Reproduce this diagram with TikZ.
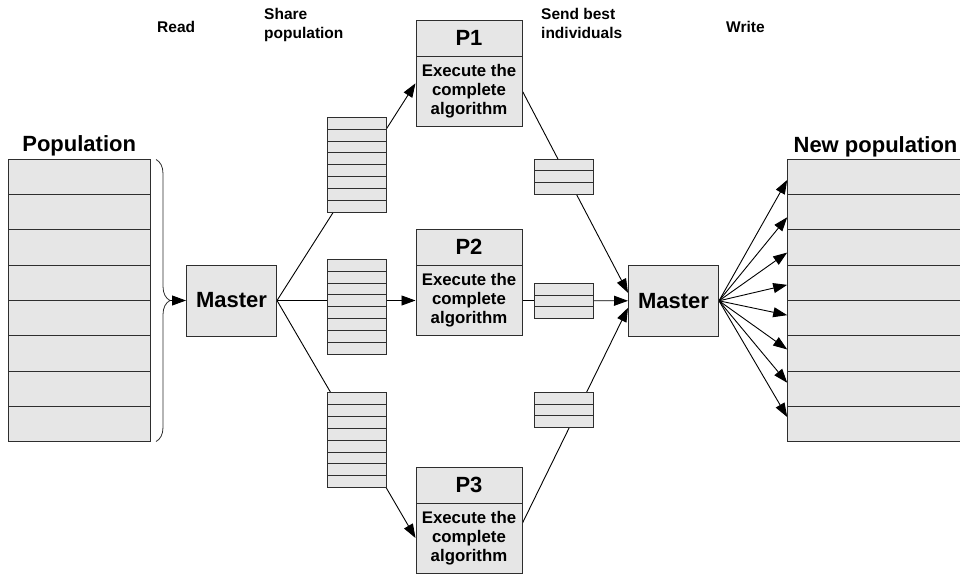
\documentclass[tikz,border=0pt]{standalone}
\usepackage{fontspec}
\setmainfont{Liberation Sans}
\usetikzlibrary{arrows.meta,decorations.pathreplacing,calc,backgrounds}
\definecolor{boxfill}{HTML}{E6E6E6}
\definecolor{boxline}{HTML}{2E2E2E}
\begin{document}
\begin{tikzpicture}[x=1pt,y=-1pt,
  base/.style={draw=boxline, fill=boxfill, line width=1pt, inner sep=0pt},
  poprow/.style={base, minimum width=141.7pt, minimum height=35.3pt},
  newrow/.style={base, minimum width=190pt, minimum height=35.3pt},
  srow/.style={base, minimum width=59.5pt, minimum height=11.875pt},
  rrow/.style={base, minimum width=59pt, minimum height=11.7pt},
  master/.style={base, minimum width=90pt, minimum height=71pt, font=\fontsize{22}{26}\selectfont\bfseries},
  phead/.style={base, minimum width=106pt, minimum height=36pt, font=\fontsize{22}{26}\selectfont\bfseries},
  pbody/.style={base, minimum width=106pt, minimum height=70pt, align=center, font=\fontsize{16.8}{19}\selectfont\bfseries},
  toplabel/.style={inner sep=0pt, align=left, font=\fontsize{15.5}{19}\selectfont\bfseries},
  biglabel/.style={inner sep=0pt, font=\fontsize{22}{26}\selectfont\bfseries},
  conn/.style={line width=0.9pt, draw=black},
  arr/.style={conn, -{Triangle[length=14pt,width=10pt]}}]
\clip (0,0) rectangle (960,574);

% top labels
\node[toplabel, anchor=base west] (read) at (157,32.5) {Read};
\node[toplabel, anchor=north west] (share) at (264,8.5) {Share\\population};
\node[toplabel, anchor=north west] (send) at (541,8.5) {Send best\\individuals};
\node[toplabel, anchor=base west] (write) at (726,32.5) {Write};

% populations
\node[biglabel, anchor=base] (poplbl) at (79.2,151.5) {Population};
\node[biglabel, anchor=base] (newlbl) at (875.5,152) {New population};
\foreach \i in {1,...,8} {
  \node[poprow] (pop\i) at (79.2,{159.3+35.3*(\i-0.5)}) {};
  \node[newrow] (np\i) at (882.7,{159.3+35.3*(\i-0.5)}) {};
}

% brace
\draw[boxline, line width=0.8pt, decorate, decoration={brace, amplitude=14pt}] (156,159.5) -- (156,441.5);
\coordinate (bt) at (170,300.5);

% masters
\node[master] (m1) at (231.5,300.5) {Master};
\node[master] (m2) at (673.5,300.8) {Master};

% processors
\node[phead] (p1h) at (469,38.3) {P1};
\node[pbody] (p1b) at (469,91.3) {Execute the\\complete\\algorithm};
\node[phead] (p2h) at (469,247) {P2};
\node[pbody] (p2b) at (469,300.5) {Execute the\\complete\\algorithm};
\node[phead] (p3h) at (469,485) {P3};
\node[pbody] (p3b) at (469,538) {Execute the\\complete\\algorithm};

% left stacks (8 rows)
\foreach \s/\t in {1/117.3, 2/259.3, 3/392.7} {
  \foreach \i in {1,...,8} {
    \node[srow] (s\s r\i) at (357.2,{\t+11.875*(\i-0.5)}) {};
  }
}
% right stacks (3 rows)
\foreach \s/\t in {1/159, 2/283.3, 3/392.3} {
  \foreach \i in {1,2,3} {
    \node[rrow] (t\s r\i) at (563.7,{\t+11.7*(\i-0.5)}) {};
  }
}

% connectors
\begin{pgfonlayer}{background}
\draw[arr] (bt) -- (m1.west);
\draw[arr] (m1.east) -- ([yshift=8pt]p1b.west);
\draw[arr] (m1.east) -- (p2b.west);
\draw[arr] (m1.east) -- (p3b.west);
\draw[arr] (p1b.east) -- ([yshift=8pt]m2.west);
\draw[arr] (p2b.east) -- (m2.west);
\draw[arr] ([yshift=15pt]p3b.east) -- ([yshift=-7pt]m2.west);
\foreach \i/\d in {1/-3,2/-5,3/-5,4/-2,5/3,6/4,7/6,8/7} {
  \draw[arr] (m2.east) -- ([yshift=\d pt]np\i.west);
}
\end{pgfonlayer}
\end{tikzpicture}
\end{document}
